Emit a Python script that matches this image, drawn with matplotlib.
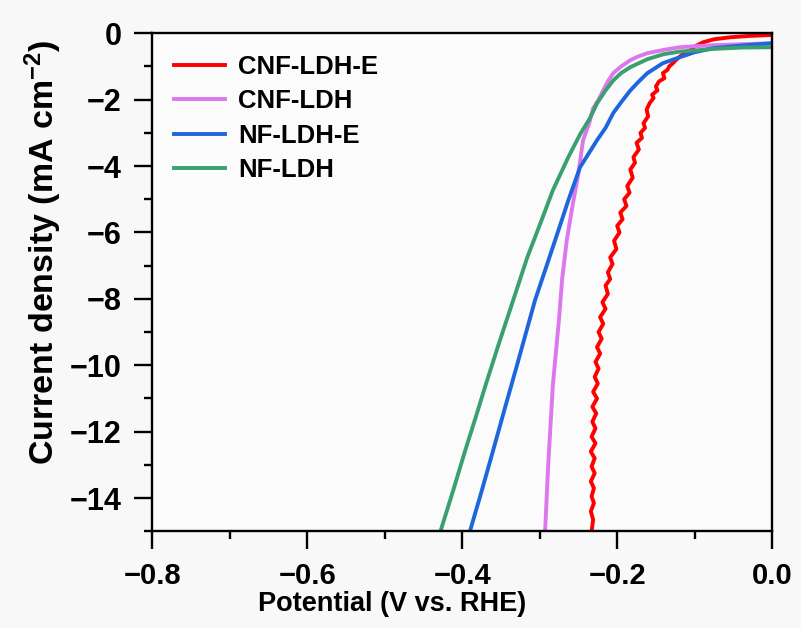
import matplotlib
matplotlib.use('Agg')
from matplotlib import pyplot as plt
from matplotlib.ticker import MultipleLocator

plt.rcParams['font.family'] = ['Liberation Sans', 'DejaVu Sans']
plt.rcParams['font.weight'] = 'bold'
plt.rcParams['mathtext.fontset'] = 'custom'
plt.rcParams['mathtext.bf'] = 'Liberation Sans:bold'
plt.rcParams['mathtext.rm'] = 'Liberation Sans:bold'
plt.rcParams['mathtext.default'] = 'bf'

# CNF-LDH-E (red), noisy trace
red_v = [0.0, -0.03, -0.054, -0.075, -0.089, -0.100, -0.106, -0.113, -0.118, -0.124,
         -0.128, -0.133, -0.135, -0.141, -0.139, -0.146, -0.150, -0.148, -0.155, -0.153,
         -0.158, -0.162, -0.160, -0.166, -0.164, -0.170, -0.168, -0.175, -0.172, -0.179,
         -0.177, -0.183, -0.180, -0.187, -0.184, -0.191, -0.188, -0.196, -0.193, -0.200,
         -0.197, -0.204, -0.201, -0.209, -0.206, -0.212, -0.209, -0.215, -0.212, -0.219,
         -0.215, -0.222, -0.218, -0.224, -0.220, -0.226, -0.222, -0.228, -0.224, -0.229,
         -0.225, -0.231, -0.226, -0.232, -0.227, -0.232, -0.228, -0.233, -0.228, -0.234,
         -0.229, -0.233, -0.229, -0.234, -0.230, -0.233, -0.230, -0.234, -0.231, -0.233]
red_j = [-0.05, -0.08, -0.12, -0.18, -0.27, -0.40, -0.51, -0.60, -0.68, -0.80,
         -0.90, -1.00, -1.10, -1.20, -1.35, -1.45, -1.60, -1.72, -1.85, -1.95,
         -2.10, -2.30, -2.50, -2.71, -2.85, -3.00, -3.15, -3.30, -3.50, -3.73,
         -3.90, -4.10, -4.35, -4.60, -4.80, -5.00, -5.20, -5.40, -5.60, -5.80,
         -6.00, -6.25, -6.50, -6.75, -6.95, -7.20, -7.40, -7.60, -7.85, -8.10,
         -8.30, -8.55, -8.75, -9.00, -9.20, -9.45, -9.65, -9.90, -10.1, -10.35,
         -10.55, -10.8, -11.0, -11.25, -11.45, -11.7, -11.9, -12.15, -12.35, -12.6,
         -12.8, -13.05, -13.25, -13.5, -13.7, -13.95, -14.15, -14.4, -14.65, -15.0]

# CNF-LDH (violet)
pink_v = [0.0, -0.04, -0.076, -0.1, -0.119, -0.14, -0.161, -0.173, -0.183, -0.195,
          -0.205, -0.212, -0.218, -0.224, -0.231, -0.236, -0.244, -0.250, -0.258, -0.265,
          -0.271, -0.275, -0.279, -0.283, -0.286, -0.289, -0.291, -0.293]
pink_j = [-0.30, -0.33, -0.36, -0.39, -0.42, -0.50, -0.60, -0.70, -0.81, -1.00,
          -1.20, -1.45, -1.72, -2.00, -2.26, -2.70, -3.22, -4.22, -5.24, -6.23,
          -7.40, -8.60, -9.60, -10.6, -11.8, -13.0, -14.0, -15.0]

# NF-LDH-E (blue)
blue_v = [0.0, -0.04, -0.076, -0.1, -0.119, -0.141, -0.161, -0.172, -0.183, -0.194,
          -0.205, -0.215, -0.226, -0.248, -0.263, -0.277, -0.291, -0.306, -0.318, -0.330,
          -0.345, -0.360, -0.375, -0.390]
blue_j = [-0.30, -0.37, -0.45, -0.57, -0.72, -0.90, -1.20, -1.45, -1.72, -2.05,
          -2.40, -2.85, -3.22, -4.04, -5.03, -6.02, -7.00, -8.04, -9.05, -10.06,
          -11.3, -12.56, -13.8, -15.0]

# NF-LDH (green)
green_v = [0.0, -0.04, -0.076, -0.1, -0.119, -0.14, -0.161, -0.183, -0.195, -0.205,
           -0.215, -0.226, -0.235, -0.248, -0.263, -0.283, -0.299, -0.316, -0.335, -0.352,
           -0.369, -0.383, -0.396, -0.412, -0.428]
green_j = [-0.42, -0.43, -0.47, -0.52, -0.55, -0.63, -0.78, -1.02, -1.20, -1.42,
           -1.72, -2.11, -2.55, -3.05, -3.73, -4.73, -5.72, -6.75, -8.10, -9.30,
           -10.54, -11.6, -12.56, -13.8, -15.0]

labels = ['CNF-LDH-E', 'CNF-LDH', 'NF-LDH-E', 'NF-LDH']
colors = ['#ff0000', '#dd77ee', '#1f66dd', '#3aa070']

fig = plt.figure(figsize=(8.01, 6.28), dpi=100, facecolor='#f8f8f8')
ax = fig.add_axes([0.19, 0.154, 0.774, 0.793])
ax.set_facecolor('#fbfbfb')

series = [(red_v, red_j), (pink_v, pink_j), (blue_v, blue_j), (green_v, green_j)]
for (v, j), lab, c in zip(series, labels, colors):
    ax.plot(v, j, color=c, lw=2.8, label=lab)

ax.set_xlim(-0.8, 0.0)
ax.set_ylim(-15, 0)
ax.xaxis.set_major_locator(MultipleLocator(0.2))
ax.xaxis.set_minor_locator(MultipleLocator(0.1))
ax.yaxis.set_major_locator(MultipleLocator(2))
ax.yaxis.set_minor_locator(MultipleLocator(1))
ax.xaxis.set_major_formatter(plt.FuncFormatter(lambda x, p: ('%.1f' % x).replace('-', '\u2212')))

for s in ax.spines.values():
    s.set_linewidth(1.7)
ax.tick_params(which='major', direction='out', length=13, width=1.7, pad=9)
ax.tick_params(which='minor', direction='out', length=6, width=1.7)
ax.tick_params(axis='x', labelsize=21)
ax.tick_params(axis='y', labelsize=22)

ax.set_xlabel('Potential (V vs. RHE)', fontsize=19.5, fontweight='bold')
ax.xaxis.set_label_coords(0.387, -0.12)
ax.set_ylabel(r'Current density (mA cm$^{-2}$)', fontsize=24.5, fontweight='bold')
ax.yaxis.set_label_coords(-0.142, 0.56)

leg = ax.legend(loc='upper left', frameon=False, fontsize=18.5, handlelength=2.0,
                handletextpad=0.5, labelspacing=0.4, borderaxespad=0.45)
for t in leg.get_texts():
    t.set_fontweight('bold')

fig.savefig('out.png', dpi=100, facecolor=fig.get_facecolor())
